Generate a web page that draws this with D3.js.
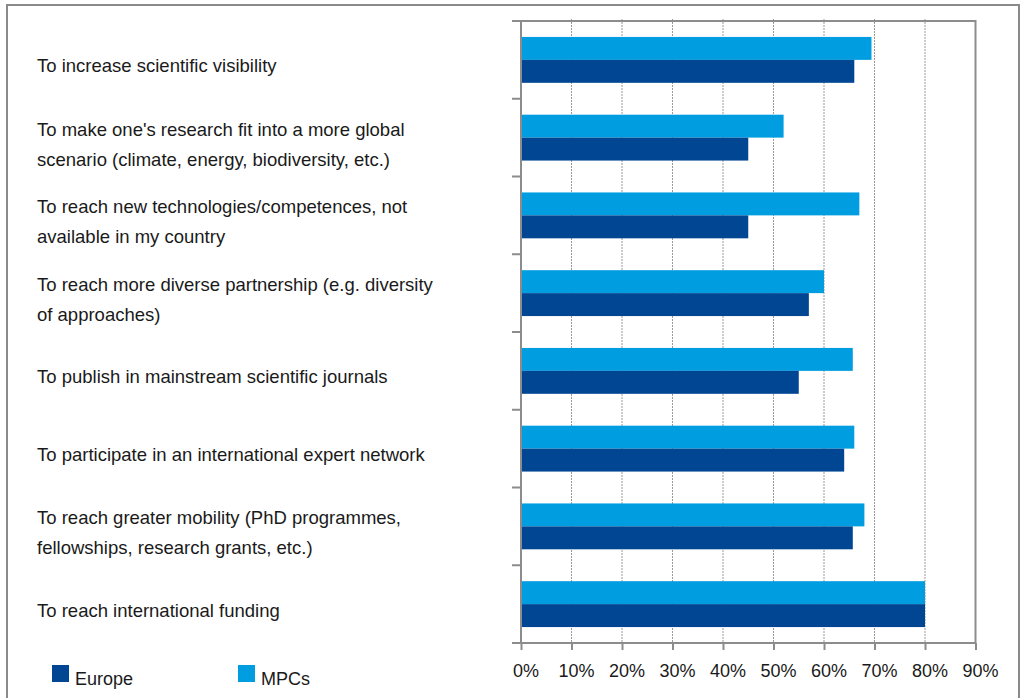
<!DOCTYPE html>
<html>
<head>
<meta charset="utf-8">
<script src="https://cdn.jsdelivr.net/npm/d3@7"></script>
<style>
  body { margin: 0; background: #fff; }
  svg { display: block; font-family: "Liberation Sans", Arial, sans-serif; }
</style>
</head>
<body>
<svg></svg>
<script>
var w = 1021, h = 698

// data, top to bottom
var categories = [
    "To increase scientific visibility",
    "To make one's research fit into a more global\nscenario (climate, energy, biodiversity, etc.)",
    "To reach new technologies/competences, not\navailable in my country",
    "To reach more diverse partnership (e.g. diversity\nof approaches)",
    "To publish in mainstream scientific journals",
    "To participate in an international expert network",
    "To reach greater mobility (PhD programmes,\nfellowships, research grants, etc.)",
    "To reach international funding"
]
var europe = [66, 45, 45, 57, 55, 64, 65.7, 80]
var mpcs = [69.4, 52, 67, 60, 65.7, 66, 68, 80]
var xTicks = [0, 10, 20, 30, 40, 50, 60, 70, 80, 90]
var seriesNames = ["Europe", "MPCs"]
var seriesColors = ["#004693", "#009ee0"]

var svg = d3.select("svg")
    .attr("width", w)
    .attr("height", h)

// outer frame (bottom runs off the picture)
svg.append("path")
    .attr("d", "M7," + (h + 5) + "V5H1019V" + (h + 5))
    .attr("fill", "none")
    .attr("stroke", "#8a8a8a")
    .attr("stroke-width", 2)

var plotLeft = 521, plotRight = 975.5, plotTop = 21, plotBottom = 643

var x = d3.scaleLinear()
    .domain([0, 90])
    .range([plotLeft, plotRight])

var y = d3.scaleBand()
    .domain(d3.range(categories.length))
    .range([plotTop, plotBottom])
    .padding(0)

// grid
svg.append("g")
    .selectAll("line")
    .data(xTicks.slice(1, -1))
    .join("line")
        .attr("x1", d => x(d))
        .attr("x2", d => x(d))
        .attr("y1", plotTop - 2)
        .attr("y2", plotBottom)
        .attr("stroke", "#9a9a9a")
        .attr("stroke-width", 1)
        .attr("stroke-dasharray", "2,1")

// bars: MPCs on top, Europe below
var groupH = y.bandwidth() * 0.59
var barH = groupH / 2
var bars = svg.append("g")
categories.forEach(function(c, i) {
    var y0 = y(i) + (y.bandwidth() - groupH) / 2
    bars.append("rect")
        .attr("x", x(0))
        .attr("y", y0)
        .attr("width", x(mpcs[i]) - x(0))
        .attr("height", barH)
        .attr("fill", seriesColors[1])
    bars.append("rect")
        .attr("x", x(0))
        .attr("y", y0 + barH)
        .attr("width", x(europe[i]) - x(0))
        .attr("height", barH)
        .attr("fill", seriesColors[0])
})

// plot frame
svg.append("rect")
    .attr("x", plotLeft)
    .attr("y", plotTop)
    .attr("width", plotRight - plotLeft)
    .attr("height", plotBottom - plotTop)
    .attr("fill", "none")
    .attr("stroke", "#8c8c8c")
    .attr("stroke-width", 2)

// left ticks at category boundaries
svg.append("g")
    .selectAll("line")
    .data(d3.range(categories.length + 1))
    .join("line")
        .attr("x1", plotLeft - 9)
        .attr("x2", plotLeft)
        .attr("y1", d => plotTop + d * y.step())
        .attr("y2", d => plotTop + d * y.step())
        .attr("stroke", "#8c8c8c")
        .attr("stroke-width", 2)

// bottom axis
var xAxis = svg.append("g")
    .attr("transform", "translate(0," + plotBottom + ")")
    .call(d3.axisBottom(x).tickValues(xTicks).tickFormat(d => d + "%").tickSize(7).tickPadding(0))
xAxis.select(".domain").remove()
xAxis.selectAll(".tick line")
    .attr("stroke", "#8c8c8c")
    .attr("stroke-width", 2)
xAxis.selectAll(".tick text")
    .attr("font-size", 18)
    .attr("fill", "#1a1a1a")
    .attr("font-family", "Liberation Sans, Arial, sans-serif")
    .attr("dx", 4.5)
    .attr("y", 34)
    .attr("dy", 0)

// category labels
var labels = svg.append("g")
categories.forEach(function(c, i) {
    var lines = c.split("\n")
    var cy = y(i) + y.bandwidth() / 2
    var t = labels.append("text")
        .attr("x", 37)
        .attr("font-size", 18.5)
        .attr("fill", "#1a1a1a")
    lines.forEach(function(l, k) {
        var by = lines.length == 1 ? cy + 12.5 : cy - 2 + k * 30
        t.append("tspan")
            .attr("x", 37)
            .attr("y", by)
            .text(l)
    })
})

// legend
var legendX = [52, 238]
seriesNames.forEach(function(s, i) {
    svg.append("rect")
        .attr("x", legendX[i])
        .attr("y", 665)
        .attr("width", 17)
        .attr("height", 17)
        .attr("fill", seriesColors[i])
    svg.append("text")
        .attr("x", legendX[i] + 23)
        .attr("y", 685)
        .attr("font-size", 18)
        .attr("fill", "#1a1a1a")
        .text(s)
})
</script>
</body>
</html>
